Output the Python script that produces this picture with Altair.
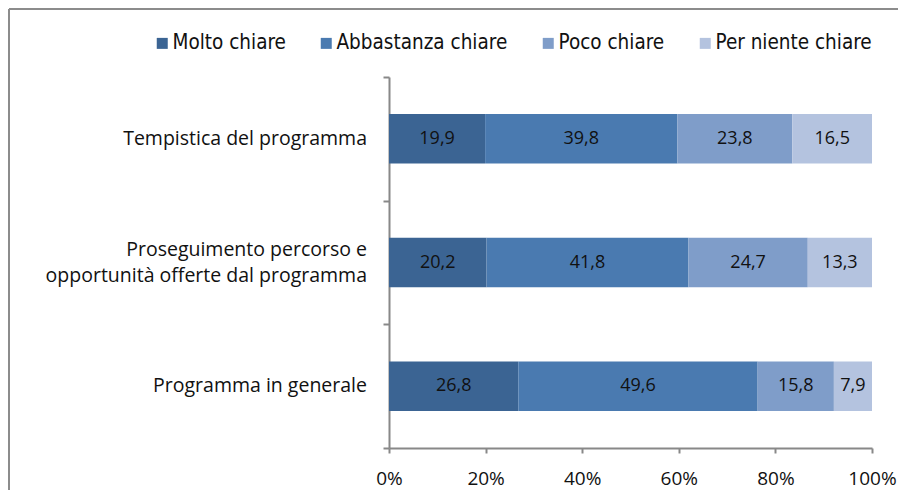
import altair as alt
import pandas as pd

categories = ["Tempistica del programma",
              "Proseguimento percorso e|opportunità offerte dal programma",
              "Programma in generale"]
series = ["Molto chiare", "Abbastanza chiare", "Poco chiare", "Per niente chiare"]
values = {
    "Molto chiare":      [19.9, 20.2, 26.8],
    "Abbastanza chiare": [39.8, 41.8, 49.6],
    "Poco chiare":       [23.8, 24.7, 15.8],
    "Per niente chiare": [16.5, 13.3, 7.9],
}
colors = ["#3b6493", "#4a7ab0", "#7f9dc9", "#b4c3df"]

rows = []
for si, s in enumerate(series):
    for ci, c in enumerate(categories):
        v = values[s][ci]
        rows.append({"cat": c, "serie": s, "val": v, "ord": si,
                     "lab": f"{v:.1f}".replace(".", ",")})
df = pd.DataFrame(rows)
cat_df = pd.DataFrame({"cat": categories,
                       "multi": [("|" in c) for c in categories]})

FONT = "Open Sans"
LFONT = "DejaVu Sans Condensed, Open Sans"
W, H = 483, 371
LINE_H = 26

ysc = alt.Scale(domain=categories, paddingInner=0, paddingOuter=0)

bars = alt.Chart(df).mark_bar(height={"band": 0.4}).encode(
    y=alt.Y("cat:N", sort=categories, title=None, scale=ysc,
            axis=alt.Axis(labels=False, tickSize=6,
                          tickBand="extent", domainColor="#888888", domainWidth=2,
                          tickColor="#888888", tickWidth=2)),
    x=alt.X("val:Q", stack="normalize", title=None,
            scale=alt.Scale(domain=[0, 1]),
            axis=alt.Axis(values=[0, 0.2, 0.4, 0.6, 0.8, 1.0], format=".0%",
                          labelFontSize=19, labelPadding=16, tickSize=5,
                          domainColor="#888888", domainWidth=2, tickColor="#888888",
                          tickWidth=2, labelColor="#111111", labelFont=FONT,
                          grid=False, labelFlush=False)),
    color=alt.Color("serie:N", sort=series,
                    scale=alt.Scale(domain=series, range=colors),
                    legend=alt.Legend(title=None, orient="none", direction="horizontal",
                                      legendX=-237, legendY=-44, symbolType="square",
                                      symbolSize=121, symbolStrokeWidth=0,
                                      labelFontSize=20.5, labelFont=LFONT, labelColor="#111111",
                                      labelOffset=0, columnPadding=30, symbolOpacity=1,
                                      labelLimit=300)),
    order=alt.Order("ord:Q"),
)

texts = alt.Chart(df).mark_text(fontSize=18, font=FONT, color="#111111").encode(
    y=alt.Y("cat:N", sort=categories, scale=ysc),
    x=alt.X("val:Q", stack="normalize", bandPosition=0.5),
    text="lab:N",
    detail="serie:N",
    order=alt.Order("ord:Q"),
)

def cat_labels(multi, dy):
    return alt.Chart(cat_df).transform_filter(
        f"datum.multi == {'true' if multi else 'false'}"
    ).mark_text(align="right", baseline="middle", lineBreak="|", lineHeight=LINE_H,
                fontSize=19.5, font=FONT, color="#111111", dy=dy).encode(
        y=alt.Y("cat:N", sort=categories, scale=ysc),
        x=alt.value(-22),
        text="cat:N",
    )

lab_single = cat_labels(False, 0)
lab_multi = cat_labels(True, -LINE_H / 2)

border_top = alt.Chart(df).mark_rule(color="#8c8c8c", strokeWidth=2).encode(
    x=alt.value(-380), x2=alt.value(530), y=alt.value(-68))
border_left = alt.Chart(df).mark_rule(color="#8c8c8c", strokeWidth=2).encode(
    x=alt.value(-380), y=alt.value(-68), y2=alt.value(420))

chart = alt.layer(bars, texts, lab_single, lab_multi, border_top, border_left).properties(
    width=W, height=H,
    autosize=alt.AutoSizeParams(type="none"),
    padding={"left": 381, "top": 69, "right": 26, "bottom": 42},
).configure_view(stroke=None)

chart.save("out.html", embed_options={"renderer": "svg", "actions": False})
